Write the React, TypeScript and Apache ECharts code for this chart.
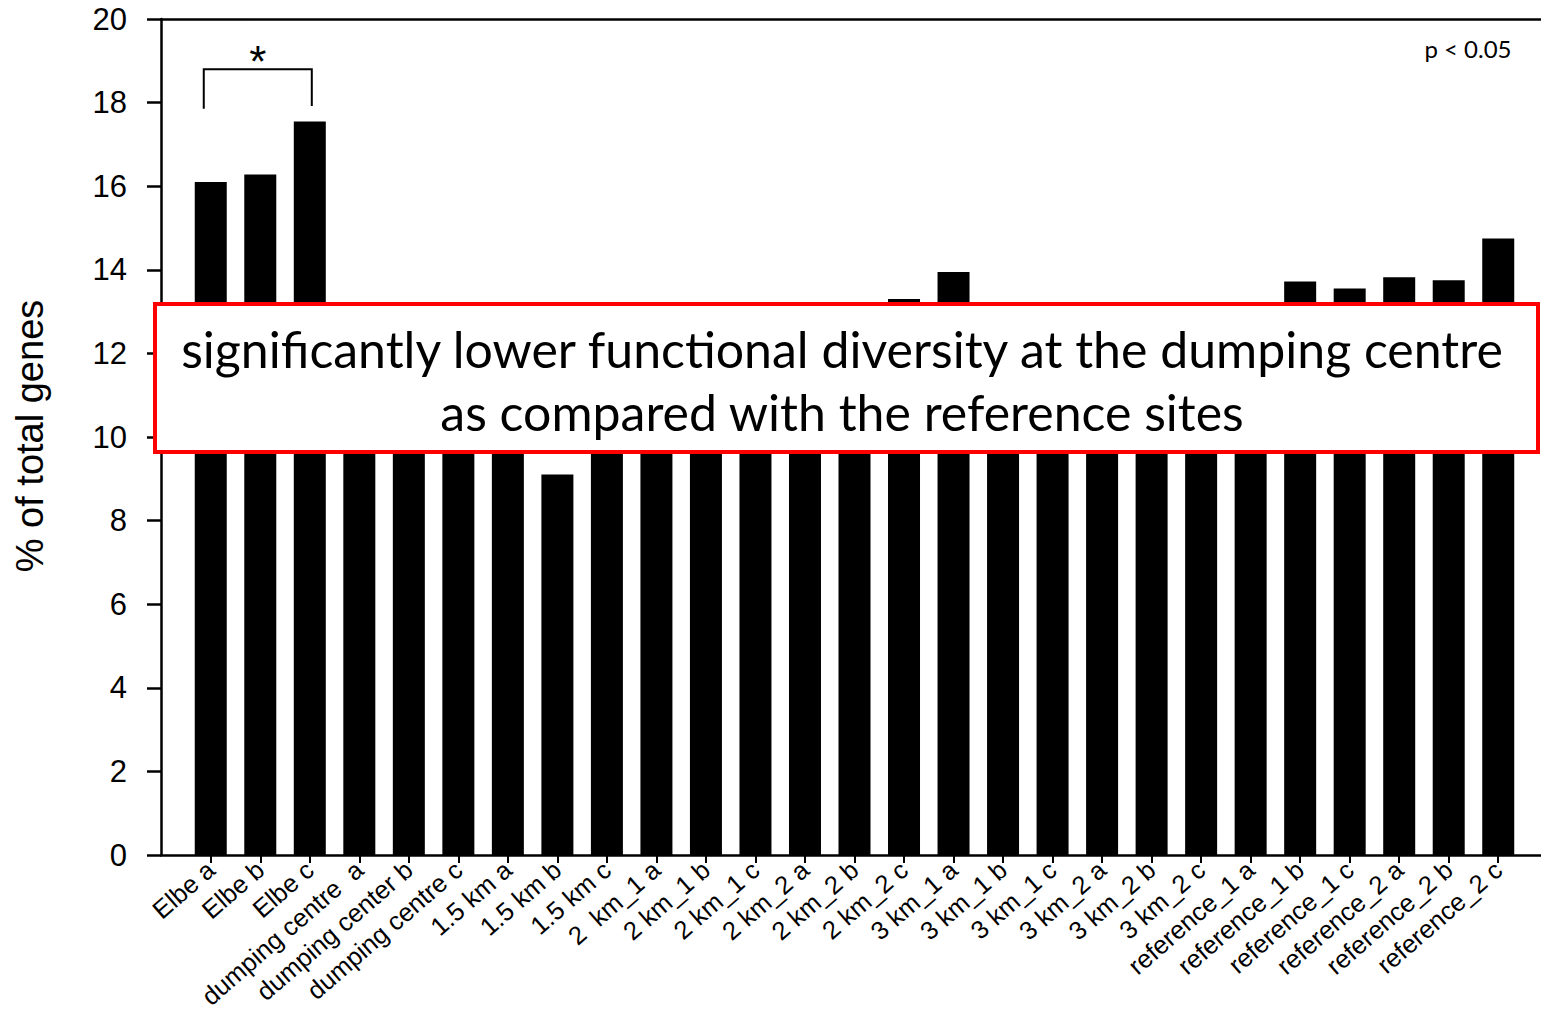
import React, { useEffect, useRef } from "react";
import * as echarts from "echarts";

const categories = [
  "Elbe a", "Elbe b", "Elbe c",
  "dumping centre  a", "dumping center b", "dumping centre c",
  "1.5 km a", "1.5 km b", "1.5 km c",
  "2  km_1 a", "2 km_1 b", "2 km_1 c",
  "2 km_2 a", "2 km_2 b", "2 km_2 c",
  "3 km_1 a", "3 km_1 b", "3 km_1 c",
  "3 km_2 a", "3 km_2 b", "3 km_2 c",
  "reference_1 a", "reference_1 b", "reference_1 c",
  "reference_2 a", "reference_2 b", "reference_2 c",
];

const values = [
  16.1, 16.28, 17.55,
  12.0, 11.8, 12.2,
  12.5, 9.1, 12.3,
  12.6, 12.4, 12.7,
  12.8, 12.9, 13.3,
  13.95, 12.8, 12.6,
  12.9, 12.7, 13.0,
  13.22, 13.72, 13.55,
  13.82, 13.75, 14.75,
];

const yTicks = { min: 0, max: 20, interval: 2 };

const yTitle = "% of total genes";
const boxLines = [
  "significantly lower functional diversity at the dumping centre",
  "as compared with the reference sites",
];
const pText = "p < 0.05";
const sigPair = [0, 2];
const sigLevels = { bar: 18.8, leftEnd: 17.85, rightEnd: 17.92, star: 19.2 };

export default function App() {
  const ref = useRef<HTMLDivElement>(null);
  useEffect(() => {
    if (!ref.current) return;
    const chart = echarts.init(ref.current, null, { renderer: "svg" });
    const axisFont = "'Liberation Sans', Arial, sans-serif";
    chart.setOption({
      animation: false,
      backgroundColor: "#ffffff",
      grid: [
        { left: 161, top: 19, width: 1380, height: 836, containLabel: false, outerBoundsMode: "none" },
        { left: 186, top: 19, width: 1337, height: 836, containLabel: false, outerBoundsMode: "none" },
      ],
      xAxis: [
        {
          gridIndex: 0, type: "value", min: 0, max: 1, position: "bottom",
          axisLine: { show: true, lineStyle: { color: "#000", width: 2.5 } },
          axisTick: { show: false }, axisLabel: { show: false }, splitLine: { show: false },
        },
        {
          gridIndex: 1, type: "category", data: categories,
          axisLine: { show: false },
          axisTick: { show: true, alignWithLabel: true, length: 8, lineStyle: { color: "#000", width: 2 } },
          axisLabel: {
            interval: 0, rotate: 41, margin: 11, color: "#000",
            fontFamily: axisFont, fontSize: 25.5,
          },
          splitLine: { show: false },
        },
        {
          gridIndex: 0, type: "value", min: 0, max: 1, position: "top",
          axisLine: { show: true, lineStyle: { color: "#000", width: 2.5 } },
          axisTick: { show: false }, axisLabel: { show: false }, splitLine: { show: false },
        },
      ],
      yAxis: [
        {
          gridIndex: 0, type: "value", min: yTicks.min, max: yTicks.max, interval: yTicks.interval,
          axisLine: { show: true, lineStyle: { color: "#000", width: 2.5 } },
          axisTick: { show: true, length: 14, lineStyle: { color: "#000", width: 2.5 } },
          axisLabel: { color: "#000", fontFamily: axisFont, fontSize: 31, margin: 34 },
          splitLine: { show: false },
        },
        {
          gridIndex: 1, type: "value", min: yTicks.min, max: yTicks.max, interval: yTicks.interval,
          show: false, splitLine: { show: false },
        },
      ],
      series: [
        {
          type: "bar", xAxisIndex: 1, yAxisIndex: 1, data: values,
          barWidth: 32, itemStyle: { color: "#000" }, z: 2,
        },
      ],
    });

    const p = (i: number, v: number) =>
      chart.convertToPixel({ xAxisIndex: 1, yAxisIndex: 1 }, [i, v]) as number[];
    const a = p(sigPair[0], sigLevels.bar);
    const b = p(sigPair[1], sigLevels.bar);
    const aEnd = p(sigPair[0], sigLevels.leftEnd);
    const bEnd = p(sigPair[1], sigLevels.rightEnd);
    const star = p((sigPair[0] + sigPair[1]) / 2, sigLevels.star);
    const lx = a[0] - 7;
    const rx = b[0] + 2;
    const stroke = { stroke: "#000", lineWidth: 2 };

    chart.setOption({
      graphic: [
        {
          type: "polyline", z: 50,
          shape: { points: [[lx, aEnd[1]], [lx, a[1]], [rx, a[1]], [rx, bEnd[1]]] },
          style: { ...stroke, fill: null },
        },
        {
          type: "text", z: 50, x: (lx + rx) / 2, y: star[1] + 9,
          style: { text: "*", fill: "#000", font: "44px 'Liberation Sans', Arial", textAlign: "center", textVerticalAlign: "middle" },
        },
        {
          type: "text", z: 50, x: 1468, y: 48,
          style: { text: pText, fill: "#000", font: "24px Lato, 'Open Sans', sans-serif", textAlign: "center", textVerticalAlign: "middle" },
        },
        {
          type: "text", z: 50, x: 30, y: 436, rotation: Math.PI / 2,
          style: { text: yTitle, fill: "#000", font: "38px 'Liberation Sans', Arial", textAlign: "center", textVerticalAlign: "middle" },
        },
        {
          type: "rect", z: 100,
          shape: { x: 155, y: 304, width: 1383, height: 148 },
          style: { fill: "#fff", stroke: "#ff0000", lineWidth: 4 },
        },
        {
          type: "text", z: 101, x: 842, y: 380,
          style: {
            text: boxLines.join("\n"), fill: "#000", font: "50px Lato, 'Open Sans', sans-serif",
            textAlign: "center", textVerticalAlign: "middle", lineHeight: 63,
          },
        },
      ],
    });
    return () => chart.dispose();
  }, []);
  return <div ref={ref} style={{ position: "fixed", left: 0, top: 0, width: 1541, height: 1016 }} />;
}
